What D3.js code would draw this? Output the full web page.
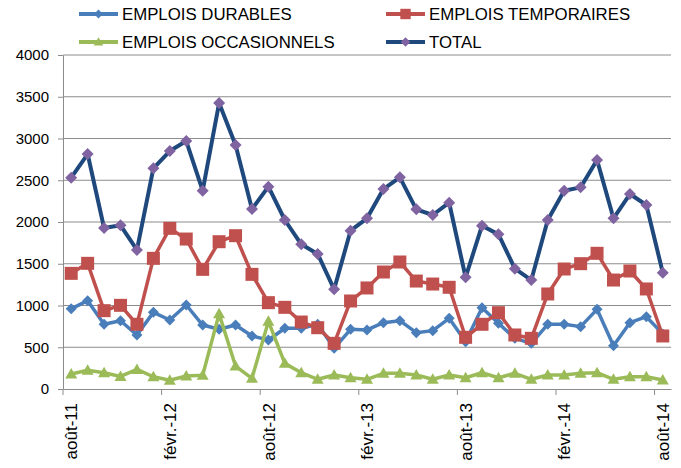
<!DOCTYPE html>
<html>
<head>
<meta charset="utf-8">
<script src="https://cdn.jsdelivr.net/npm/d3@7"></script>
<style>
  body { margin: 0; background: #fff; }
  svg { display: block; font-family: "Liberation Sans", Arial, sans-serif; }
</style>
</head>
<body>
<svg id="chart"></svg>
<script>
const months = [
  "août-11", "sept.-11", "oct.-11", "nov.-11", "déc.-11", "janv.-12",
  "févr.-12", "mars-12", "avr.-12", "mai-12", "juin-12", "juil.-12",
  "août-12", "sept.-12", "oct.-12", "nov.-12", "déc.-12", "janv.-13",
  "févr.-13", "mars-13", "avr.-13", "mai-13", "juin-13", "juil.-13",
  "août-13", "sept.-13", "oct.-13", "nov.-13", "déc.-13", "janv.-14",
  "févr.-14", "mars-14", "avr.-14", "mai-14", "juin-14", "juil.-14",
  "août-14"
];
const tickLabels = ["août-11", "févr.-12", "août-12", "févr.-13", "août-13", "févr.-14", "août-14"];
const yTicks = [0, 500, 1000, 1500, 2000, 2500, 3000, 3500, 4000];

const durables = [960, 1058, 775, 818, 647, 918, 826, 1006, 766, 715, 766, 635,
  587, 727, 727, 775, 487, 715, 707, 794, 818, 675, 699, 846,
  567, 974, 787, 607, 547, 775, 775, 747, 954, 519, 794, 866, 660];
const temporaires = [1385, 1505, 938, 1002, 775, 1565, 1924, 1796, 1433, 1764, 1836, 1373,
  1034, 978, 802, 734, 547, 1054, 1210, 1401, 1521, 1293, 1257, 1218,
  619, 775, 914, 647, 607, 1138, 1437, 1501, 1625, 1305, 1413, 1198, 635];
const occasionnels = [180, 225, 195, 150, 235, 147, 105, 156, 165, 900, 275, 128,
  810, 307, 195, 116, 168, 135, 116, 188, 188, 168, 116, 168,
  135, 195, 135, 188, 116, 168, 168, 188, 195, 116, 147, 147, 108];
const total = [2531, 2814, 1928, 1960, 1665, 2643, 2850, 2970, 2375, 3425, 2922, 2155,
  2423, 2024, 1733, 1617, 1194, 1896, 2044, 2395, 2535, 2152, 2084, 2231,
  1338, 1956, 1852, 1441, 1305, 2024, 2375, 2415, 2743, 2044, 2335, 2204, 1393];

const series = [
  { name: "EMPLOIS DURABLES", values: durables, line: "#4a7ebb", fill: "#4a7ebb", marker: "diamond", r: 5.5, width: 3.5 },
  { name: "EMPLOIS TEMPORAIRES", values: temporaires, line: "#c0504d", fill: "#c0504d", marker: "square", r: 6.5, width: 3.5 },
  { name: "EMPLOIS OCCASIONNELS", values: occasionnels, line: "#9bbb59", fill: "#9bbb59", marker: "triangle", r: 6, width: 3.5 },
  { name: "TOTAL", values: total, line: "#1f497d", fill: "#8064a2", marker: "diamond", r: 6, width: 4 }
];

const W = 681, H = 468;
const margin = { top: 55, right: 10, bottom: 79, left: 63 };

const svg = d3.select("#chart").attr("width", W).attr("height", H);

const x = d3.scaleBand().domain(months).range([margin.left, W - margin.right]).padding(0);
const y = d3.scaleLinear().domain([0, 4000]).range([H - margin.bottom, margin.top]);

function markerPath(type, r) {
  if (type === "diamond") return `M0,${-r}L${r},0L0,${r}L${-r},0Z`;
  if (type === "square") return `M${-r},${-r}H${r}V${r}H${-r}Z`;
  return `M0,${-r}L${r},${r * 0.75}L${-r},${r * 0.75}Z`;
}

// grid lines
svg.append("g")
  .selectAll("line")
  .data(yTicks.filter(d => d > 0))
  .join("line")
  .attr("x1", margin.left)
  .attr("x2", W - margin.right)
  .attr("y1", d => y(d))
  .attr("y2", d => y(d))
  .attr("stroke", "#8c8c8c")
  .attr("stroke-width", 1);

// y axis
const yAxis = svg.append("g")
  .attr("transform", `translate(${margin.left},0)`)
  .call(d3.axisLeft(y).tickValues(yTicks).tickFormat(d3.format("d"))
    .tickSize(5).tickSizeOuter(0).tickPadding(9));
yAxis.select(".domain").attr("stroke", "#8c8c8c");
yAxis.selectAll(".tick line").attr("stroke", "#8c8c8c");
yAxis.selectAll(".tick text")
  .attr("font-size", "15px")
  .attr("font-family", "Liberation Sans, Arial, sans-serif")
  .attr("fill", "#000");

// x axis
const half = x.bandwidth() / 2;
const xAxis = svg.append("g")
  .attr("transform", `translate(0,${H - margin.bottom})`)
  .call(d3.axisBottom(x).tickValues(tickLabels).tickSize(6).tickSizeOuter(0));
xAxis.select(".domain").attr("stroke", "#8c8c8c");
xAxis.selectAll(".tick line")
  .attr("stroke", "#8c8c8c")
  .attr("x1", -half)
  .attr("x2", -half);
xAxis.selectAll(".tick text")
  .attr("font-size", "17px")
  .attr("font-family", "Liberation Sans, Arial, sans-serif")
  .attr("fill", "#000")
  .attr("transform", "rotate(-90)")
  .attr("text-anchor", "end")
  .attr("x", -14)
  .attr("y", 0)
  .attr("dy", "0.36em");

const cx = i => x(months[i]) + half;

const line = d3.line()
  .x((d, i) => cx(i))
  .y(d => y(d));

series.forEach(s => {
  const g = svg.append("g");
  g.append("path")
    .datum(s.values)
    .attr("d", line)
    .attr("fill", "none")
    .attr("stroke", s.line)
    .attr("stroke-width", s.width)
    .attr("stroke-linejoin", "round");
  g.selectAll("path.m")
    .data(s.values)
    .join("path")
    .attr("class", "m")
    .attr("d", markerPath(s.marker, s.r))
    .attr("transform", (d, i) => `translate(${cx(i)},${y(d)})`)
    .attr("fill", s.fill);
});

// legend
const legendPos = [[79, 14], [386, 14], [79, 42], [386, 42]];
series.forEach((s, i) => {
  const [lx, ly] = legendPos[i];
  const g = svg.append("g").attr("transform", `translate(${lx},${ly})`);
  g.append("line")
    .attr("x1", 0).attr("x2", 39)
    .attr("y1", 0).attr("y2", 0)
    .attr("stroke", s.line)
    .attr("stroke-width", 4);
  g.append("path")
    .attr("d", markerPath(s.marker, s.r * 0.8))
    .attr("transform", "translate(19.5,0)")
    .attr("fill", s.fill);
  g.append("text")
    .attr("x", 43)
    .attr("y", 0)
    .attr("dy", "0.36em")
    .attr("font-size", "16.8px")
    .attr("fill", "#000")
    .text(s.name);
});
</script>
</body>
</html>
